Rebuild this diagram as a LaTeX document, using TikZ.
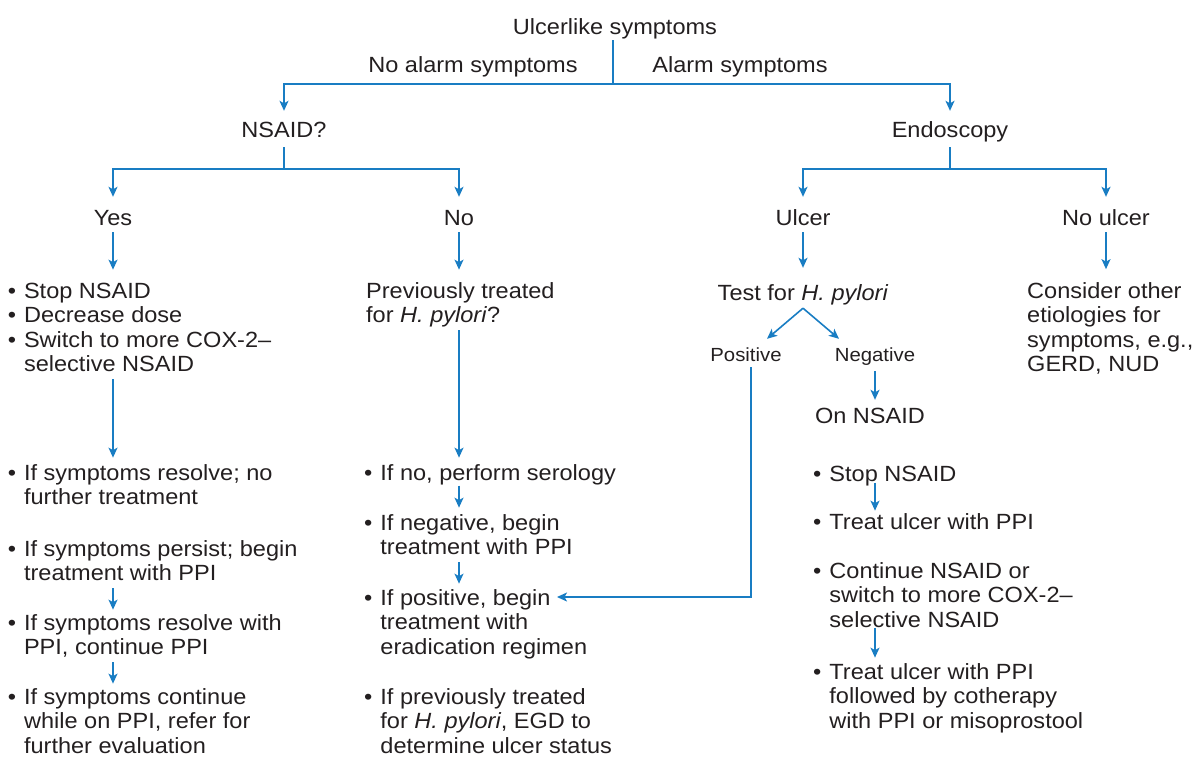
\documentclass[tikz,border=0pt]{standalone}
\usepackage{fontspec}
\setmainfont{Liberation Sans}[FakeStretch=1.07]
\usetikzlibrary{arrows.meta,calc}
\definecolor{ink}{RGB}{35,31,32}
\definecolor{flow}{RGB}{25,125,195}
\newcommand\myfs{\fontsize{22}{24.5}\selectfont}
\newcommand\mysfs{\fontsize{19}{22}\selectfont}
\newcommand\blist[1]{\begin{tabular}[t]{@{}l@{\hspace{8pt}}l@{}}#1\end{tabular}}
\newcommand\plist[1]{\begin{tabular}[t]{@{}l@{}}#1\end{tabular}}
\tikzset{
  lbl/.style={font=\myfs, text=ink, inner sep=0pt, text height=16pt, text depth=5pt, anchor=base},
  slbl/.style={font=\mysfs, text=ink, inner sep=0pt, text height=14pt, text depth=4pt, anchor=base},
  blk/.style={font=\myfs, text=ink, inner sep=0pt, anchor=base west},
  ln/.style={draw=flow, line width=1.6pt},
  arr/.style={ln, -{Stealth[length=10pt,width=9pt,inset=2.5pt]}},
}
\begin{document}
\begin{tikzpicture}[x=1pt,y=-1pt]
\useasboundingbox (0,0) rectangle (1194,756);
% labels
\node[lbl] (top) at (615,34) {Ulcerlike symptoms};
\node[lbl] (noal) at (473,72) {No alarm symptoms};
\node[lbl] (al) at (740,72) {Alarm symptoms};
\node[lbl] (nsaid) at (284,137) {NSAID?};
\node[lbl] (endo) at (950,137) {Endoscopy};
\node[lbl] (yes) at (113,225) {Yes};
\node[lbl] (no) at (459,225) {No};
\node[lbl] (ulc) at (803,225) {Ulcer};
\node[lbl] (noulc) at (1106,225) {No ulcer};
\node[blk] (l1) at (7.6,298) {\blist{• & Stop NSAID\\ • & Decrease dose\\ • & Switch to more COX-2–\\ & selective NSAID}};
\node[blk] (prev) at (366,298) {\plist{Previously treated\\ for \textit{H. pylori}?}};
\node[lbl] (test) at (803,300) {Test for \textit{H. pylori}};
\node[blk] (cons) at (1027,298) {\plist{Consider other\\ etiologies for\\ symptoms, e.g.,\\ GERD, NUD}};
\node[slbl] (pos) at (746,361) {Positive};
\node[slbl] (neg) at (875,361) {Negative};
\node[lbl] (onn) at (870,423) {On NSAID};
% left column
\node[blk] (r1) at (7.6,480) {\blist{• & If symptoms resolve; no\\ & further treatment}};
\node[blk] (r2) at (7.6,556) {\blist{• & If symptoms persist; begin\\ & treatment with PPI}};
\node[blk] (r3) at (7.6,630) {\blist{• & If symptoms resolve with\\ & PPI, continue PPI}};
\node[blk] (r4) at (7.6,704) {\blist{• & If symptoms continue\\ & while on PPI, refer for\\ & further evaluation}};
% middle column
\node[blk] (m1) at (364,480) {\blist{• & If no, perform serology}};
\node[blk] (m2) at (364,530) {\blist{• & If negative, begin\\ & treatment with PPI}};
\node[blk] (m3) at (364,605) {\blist{• & If positive, begin\\ & treatment with\\ & eradication regimen}};
\node[blk] (m4) at (364,704) {\blist{• & If previously treated\\ & for \textit{H. pylori}, EGD to\\ & determine ulcer status}};
% right column
\node[blk] (rs1) at (813,481) {\blist{• & Stop NSAID}};
\node[blk] (rs2) at (813,529) {\blist{• & Treat ulcer with PPI}};
\node[blk] (rs3) at (813,578) {\blist{• & Continue NSAID or\\ & switch to more COX-2–\\ & selective NSAID}};
\node[blk] (rs4) at (813,679) {\blist{• & Treat ulcer with PPI\\ & followed by cotherapy\\ & with PPI or misoprostool}};
% connectors
\coordinate (j1) at (613,84);
\draw[ln, shorten <=1pt] (top.south -| j1) -- (j1);
\draw[arr, shorten >=10pt] (j1) -| (nsaid.north);
\draw[arr, shorten >=10pt] (j1) -| (endo.north);
\coordinate (j2) at (284,169);
\draw[ln, shorten <=5pt] (nsaid.south) -- (j2);
\draw[arr, shorten >=12pt] (j2) -| (yes.north);
\draw[arr, shorten >=12pt] (j2) -| (no.north);
\coordinate (j3) at (950,169);
\draw[ln, shorten <=5pt] (endo.south) -- (j3);
\draw[arr, shorten >=12pt] (j3) -| (ulc.north);
\draw[arr, shorten >=12pt] (j3) -| (noulc.north);
\draw[arr, shorten <=2pt, shorten >=11pt] (yes.south) -- (yes.south |- l1.north);
\draw[arr, shorten <=2pt, shorten >=11pt] (no.south) -- (no.south |- prev.north);
\draw[arr, shorten <=2pt, shorten >=16pt] (ulc.south) -- (test.north);
\draw[arr, shorten <=2pt, shorten >=11.5pt] (noulc.south) -- (noulc.south |- cons.north);
\coordinate (ap) at ([yshift=-3pt]test.south);
\draw[arr] (ap) -- ([xshift=21pt,yshift=8pt]pos.north);
\draw[arr] (ap) -- ([xshift=-36pt,yshift=8pt]neg.north);
\draw[arr, shorten <=6pt, shorten >=7pt] (neg.south) -- (neg.south |- onn.north);
\draw[arr, shorten <=2pt] ([xshift=5pt]pos.south) |- ([xshift=193pt,yshift=8pt]m3.base west);
\draw[arr, shorten >=5pt] (yes |- l1.south) -- (yes |- r1.north);
\draw[arr, shorten >=3pt] (yes |- r2.south) -- (yes |- r3.north);
\draw[arr, shorten >=3pt] (yes |- r3.south) -- (yes |- r4.north);
\draw[arr, shorten >=5pt] (no |- prev.south) -- (no |- m1.north);
\draw[arr, shorten <=-2pt, shorten >=5pt] (no |- m1.south) -- (no |- m2.north);
\draw[arr, shorten >=4pt] (no |- m2.south) -- (no |- m3.north);
\draw[arr, shorten <=-6pt, shorten >=1pt] (neg |- rs1.south) -- (neg |- rs2.north);
\draw[arr, shorten <=-6.7pt, shorten >=4pt] (neg |- rs3.south) -- (neg |- rs4.north);
\end{tikzpicture}
\end{document}
